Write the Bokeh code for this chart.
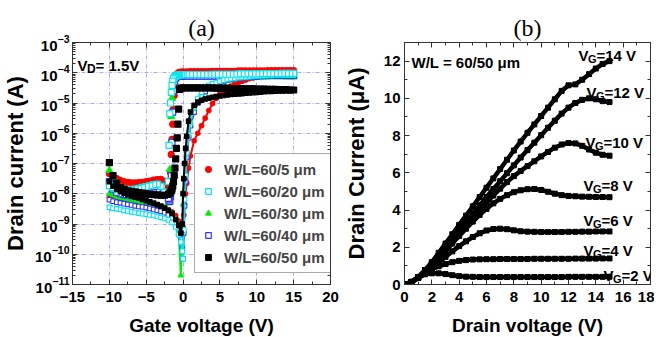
import numpy as np
from bokeh.plotting import figure
from bokeh.models import (Range1d, LinearAxis, LogAxis, SingleIntervalTicker, LogTicker,
                          Legend, LegendItem, Label, ColumnDataSource)
from bokeh.layouts import row
from bokeh.embed import file_html
from bokeh.resources import INLINE

# ---------------- data: panel (a) transfer curves (log10 of drain current in A) -------------
VG_SLOW = [-10, -9.5, -9, -8.5, -8, -7.5, -7, -6.5, -6, -5.5, -5, -4.5, -4, -3.5, -3, -2.5, -2, -1.5, -1,
           -0.6, -0.3, -0.1, 0, 0.1, 0.2, 0.35, 0.5, 0.75, 1,
           1.5, 2, 2.5, 3, 3.5, 4, 4.5, 5, 5.5, 6, 6.5, 7, 7.5, 8, 8.5, 9, 9.5, 10, 10.5, 11, 11.5,
           12, 12.5, 13, 13.5, 14, 14.5, 15]
VG_FAST = [15, 14.5, 14, 13.5, 13, 12.5, 12, 11.5, 11, 10.5, 10, 9.5, 9, 8.5, 8, 7.5, 7, 6.5, 6, 5.5,
           5, 4.5, 4, 3.5, 3, 2.5, 2, 1.5, 1, 0.5, 0,
           -0.25, -0.5, -0.6, -0.7, -0.8, -0.9, -1.0, -1.1, -1.2, -1.3, -1.4, -1.5, -1.6, -1.7, -1.8, -1.9, -2.0,
           -2.5, -3, -3.5, -4, -4.5, -5, -5.5, -6, -6.5, -7, -7.5, -8, -8.5, -9, -9.5, -10]

LOG_ID_SLOW_5 = [-8.10, -8.12, -8.14, -8.16, -8.18, -8.20, -8.22, -8.24, -8.26, -8.28, -8.30, -8.33, -8.36, -8.39,
                 -8.42, -8.46, -8.52, -8.60, -8.72,
                 -8.90, -9.15, -9.45, -9.10, -8.70, -8.35, -8.00, -7.65, -7.15, -6.75,
                 -6.25, -6.00, -5.75, -5.50, -5.25, -5.02, -4.84, -4.70, -4.60, -4.51, -4.44, -4.38, -4.33, -4.28,
                 -4.24, -4.20, -4.17, -4.14, -4.11, -4.09, -4.07, -4.05, -4.03, -4.01, -4.00, -3.99, -3.98, -3.97]
LOG_ID_SLOW_20 = [-8.45, -8.48, -8.50, -8.52, -8.55, -8.57, -8.60, -8.62, -8.64, -8.66, -8.68, -8.70, -8.72, -8.75,
                  -8.78, -8.82, -8.87, -8.95, -9.10,
                  -9.35, -9.60, -9.90, -10.15, -9.20, -8.20, -7.40, -6.65, -6.05, -5.65,
                  -5.15, -4.85, -4.65, -4.50, -4.42, -4.36, -4.32, -4.28, -4.25, -4.22, -4.20, -4.18, -4.16, -4.15,
                  -4.14, -4.13, -4.12, -4.11, -4.10, -4.10, -4.09, -4.09, -4.08, -4.08, -4.08, -4.07, -4.07, -4.07]
LOG_ID_SLOW_30 = [-8.00, -8.05, -8.10, -8.13, -8.16, -8.19, -8.22, -8.25, -8.27, -8.29, -8.31, -8.33, -8.36, -8.40,
                  -8.44, -8.49, -8.55, -8.65, -8.85,
                  -9.30, -10.70, -9.35, -8.35, -7.90, -7.50, -7.00, -6.60, -6.10, -5.75,
                  -5.30, -5.00, -4.80, -4.65, -4.53, -4.45, -4.39, -4.34, -4.30, -4.27, -4.24, -4.22, -4.20, -4.19,
                  -4.18, -4.17, -4.16, -4.16, -4.15, -4.15, -4.15, -4.14, -4.14, -4.14, -4.13, -4.13, -4.13, -4.13]
LOG_ID_SLOW_40 = [-8.20, -8.25, -8.28, -8.30, -8.33, -8.35, -8.37, -8.40, -8.42, -8.44, -8.46, -8.49, -8.52, -8.55,
                  -8.58, -8.63, -8.70, -8.80, -9.00,
                  -9.20, -9.50, -9.80, -10.15, -9.30, -8.40, -7.60, -6.80, -6.15, -5.75,
                  -5.30, -5.00, -4.78, -4.62, -4.50, -4.42, -4.36, -4.31, -4.27, -4.24, -4.22, -4.20, -4.18, -4.17,
                  -4.16, -4.15, -4.14, -4.13, -4.12, -4.12, -4.11, -4.11, -4.10, -4.10, -4.10, -4.09, -4.09, -4.09]
LOG_ID_SLOW_50 = [-7.60, -7.75, -7.85, -7.92, -7.98, -8.03, -8.07, -8.11, -8.15, -8.19, -8.23, -8.27, -8.31, -8.36,
                  -8.41, -8.47, -8.55, -8.65, -8.85,
                  -9.05, -9.30, -9.00, -8.00, -7.50, -7.00, -6.50, -6.10, -5.60, -5.30,
                  -5.08, -4.97, -4.91, -4.87, -4.84, -4.81, -4.79, -4.77, -4.75, -4.73, -4.72, -4.71, -4.70, -4.69,
                  -4.68, -4.67, -4.66, -4.65, -4.64, -4.63, -4.62, -4.62, -4.61, -4.60, -4.60, -4.59, -4.59, -4.58]

LOG_ID_FAST_5 = [-3.93, -3.93, -3.93, -3.93, -3.93, -3.93, -3.93, -3.93, -3.94, -3.94, -3.94, -3.94, -3.94, -3.94,
                 -3.94, -3.94, -3.95, -3.95, -3.95, -3.95, -3.95, -3.95, -3.95, -3.96, -3.96, -3.96, -3.96, -3.96,
                 -3.96, -3.97, -3.97,
                 -3.98, -3.99, -4.00, -4.02, -4.05, -4.10, -4.20, -4.40, -4.75, -5.20, -5.70, -6.20, -6.70, -7.30,
                 -7.75, -7.90, -7.75,
                 -7.58, -7.52, -7.53, -7.55, -7.58, -7.60, -7.62, -7.63, -7.64, -7.64, -7.62, -7.60, -7.56, -7.50,
                 -7.42, -7.33]
LOG_ID_FAST_20 = [-4.02, -4.02, -4.02, -4.02, -4.03, -4.03, -4.03, -4.03, -4.03, -4.03, -4.04, -4.04, -4.04, -4.04,
                  -4.04, -4.04, -4.05, -4.05, -4.05, -4.05, -4.05, -4.05, -4.05, -4.06, -4.06, -4.06, -4.06, -4.06,
                  -4.06, -4.06, -4.06,
                  -4.07, -4.07, -4.08, -4.08, -4.09, -4.10, -4.11, -4.13, -4.16, -4.20, -4.28, -4.42, -4.65, -5.00,
                  -5.35, -6.40, -7.60,
                  -7.95, -7.75, -7.68, -7.70, -7.73, -7.76, -7.79, -7.82, -7.85, -7.87, -7.88, -7.90, -7.88, -7.84,
                  -7.80, -7.73]
LOG_ID_FAST_30 = [-4.14, -4.14, -4.14, -4.13, -4.13, -4.13, -4.13, -4.12, -4.12, -4.12, -4.12, -4.12, -4.11, -4.11,
                  -4.11, -4.11, -4.11, -4.10, -4.10, -4.10, -4.10, -4.10, -4.10, -4.10, -4.09, -4.09, -4.09, -4.09,
                  -4.09, -4.09, -4.09,
                  -4.09, -4.10, -4.10, -4.11, -4.12, -4.13, -4.15, -4.18, -4.23, -4.32, -4.50, -4.85, -5.45, -6.30,
                  -7.20, -8.05, -8.30,
                  -8.00, -7.80, -7.72, -7.72, -7.75, -7.78, -7.80, -7.83, -7.86, -7.88, -7.88, -7.85, -7.80, -7.65,
                  -7.45, -7.23]
LOG_ID_FAST_40 = [-4.09, -4.09, -4.09, -4.09, -4.09, -4.09, -4.09, -4.09, -4.09, -4.09, -4.10, -4.10, -4.10, -4.10,
                  -4.10, -4.10, -4.10, -4.10, -4.10, -4.10, -4.11, -4.11, -4.11, -4.11, -4.11, -4.11, -4.11, -4.11,
                  -4.11, -4.11, -4.11,
                  -4.11, -4.11, -4.12, -4.12, -4.13, -4.14, -4.16, -4.20, -4.30, -4.60, -5.30, -6.30, -7.40, -8.10,
                  -8.25, -8.20, -8.15,
                  -8.00, -7.95, -7.95, -7.97, -8.00, -8.02, -8.04, -8.05, -8.06, -8.06, -8.05, -8.03, -8.00, -7.95,
                  -7.85, -7.60]
LOG_ID_FAST_50 = [-4.57, -4.57, -4.56, -4.56, -4.56, -4.55, -4.55, -4.55, -4.54, -4.54, -4.54, -4.53, -4.53, -4.53,
                  -4.52, -4.52, -4.52, -4.52, -4.51, -4.51, -4.51, -4.51, -4.50, -4.50, -4.50, -4.50, -4.50, -4.50,
                  -4.50, -4.50, -4.50,
                  -4.51, -4.55, -5.20, -5.70, -6.15, -6.50, -6.85, -7.15, -7.40, -7.60, -7.75, -7.85, -7.90, -7.95,
                  -7.98, -8.00, -8.02,
                  -8.05, -8.05, -8.04, -8.03, -8.02, -8.00, -7.98, -7.96, -7.94, -7.92, -7.90, -7.85, -7.80, -7.65,
                  -7.40, -6.97]

SERIES_LABELS = ["W/L=60/5 \u03bcm", "W/L=60/20 \u03bcm", "W/L=60/30 \u03bcm", "W/L=60/40 \u03bcm", "W/L=60/50 \u03bcm"]

# ---------------- data: panel (b) output curves (drain current in uA) -------------
VD = [0, 0.5, 1, 1.5, 2, 2.5, 3, 3.5, 4, 4.5, 5, 5.5, 6, 6.5, 7, 7.5, 8, 8.5, 9, 9.5,
      10, 10.5, 11, 11.5, 12, 12.5, 13, 13.5, 14, 14.5, 15]
ID_VG2 = [0, 0.10, 0.35, 0.55, 0.60, 0.60, 0.56, 0.50, 0.45, 0.42, 0.41, 0.40, 0.40, 0.40, 0.40, 0.40,
          0.40, 0.40, 0.40, 0.40, 0.40, 0.40, 0.40, 0.40, 0.41, 0.41, 0.41, 0.41, 0.41, 0.41, 0.42]
ID_VG4 = [0, 0.15, 0.40, 0.62, 0.82, 0.98, 1.10, 1.20, 1.27, 1.31, 1.34, 1.35, 1.36, 1.36, 1.37, 1.37,
          1.37, 1.37, 1.37, 1.38, 1.38, 1.38, 1.38, 1.38, 1.38, 1.39, 1.39, 1.39, 1.39, 1.40, 1.40]
ID_VG6 = [0, 0.12, 0.35, 0.60, 0.88, 1.18, 1.48, 1.78, 2.06, 2.32, 2.55, 2.75, 2.90, 2.98, 3.00, 2.97,
          2.91, 2.86, 2.84, 2.83, 2.82, 2.82, 2.82, 2.82, 2.83, 2.83, 2.84, 2.84, 2.85, 2.85, 2.85]
ID_VG8 = [0, 0.12, 0.36, 0.66, 1.02, 1.40, 1.80, 2.20, 2.60, 3.00, 3.38, 3.74, 4.06, 4.36, 4.60, 4.80,
          4.96, 5.06, 5.12, 5.13, 5.08, 4.98, 4.88, 4.80, 4.76, 4.74, 4.72, 4.71, 4.70, 4.70, 4.69]
ID_VG10 = [0, 0.12, 0.37, 0.70, 1.08, 1.50, 1.92, 2.34, 2.76, 3.18, 3.60, 4.00, 4.40, 4.78, 5.15, 5.50,
           5.82, 6.10, 6.36, 6.62, 6.88, 7.12, 7.35, 7.52, 7.60, 7.58, 7.45, 7.25, 7.08, 6.97, 6.92]
ID_VG12 = [0, 0.13, 0.39, 0.74, 1.12, 1.56, 2.00, 2.45, 2.90, 3.35, 3.80, 4.25, 4.70, 5.13, 5.55, 5.98,
           6.40, 6.82, 7.22, 7.62, 8.02, 8.42, 8.80, 9.18, 9.50, 9.75, 9.92, 10.00, 9.95, 9.85, 9.80]
ID_VG14 = [0, 0.13, 0.40, 0.78, 1.20, 1.70, 2.20, 2.70, 3.20, 3.70, 4.20, 4.70, 5.20, 5.70, 6.20, 6.70,
           7.20, 7.68, 8.15, 8.60, 9.05, 9.50, 9.95, 10.40, 10.70, 10.75, 11.00, 11.30, 11.60, 11.85, 12.00]
VG_LABELS = ["14", "12", "10", "8", "6", "4", "2"]

FONT = "Liberation Sans"
AX = "#333333"
TOP, BOTTOM = 42, 45


def style_axis(ax, tick_size="15px"):
    ax.major_tick_in = 5
    ax.major_tick_out = 0
    ax.minor_tick_in = 3
    ax.minor_tick_out = 0
    ax.axis_line_color = AX
    ax.major_tick_line_color = AX
    ax.minor_tick_line_color = AX
    ax.major_label_text_font = FONT
    ax.major_label_text_font_style = "bold"
    ax.major_label_text_font_size = tick_size
    ax.major_label_text_color = "black"
    ax.axis_label_text_font = FONT
    ax.axis_label_text_font_style = "bold"
    ax.axis_label_text_color = "black"


def blank_axis(ax):
    style_axis(ax, "2px")
    ax.major_label_text_alpha = 0
    ax.major_label_standoff = 0


def title_axis(ax, txt):
    blank_axis(ax)
    ax.axis_label = txt
    ax.axis_label_text_font = "Liberation Serif"
    ax.axis_label_text_font_style = "normal"
    ax.axis_label_text_font_size = "24px"
    ax.axis_label_standoff = 2


def add_text(p, txt, x, y, size, font=FONT, style="bold", align="left"):
    p.add_layout(Label(x=x, y=y, x_units="screen", y_units="screen", text=txt,
                       text_font=font, text_font_style=style, text_font_size=size,
                       text_color="black", text_align=align, text_baseline="alphabetic"))


def add_sub_label(p, main, sub, rest, x, y):
    add_text(p, main, x, y, "15px")
    add_text(p, sub, x + 9.5, y - 3.5, "11px")
    add_text(p, rest, x + 18, y, "15px")


# ---------------- panel (a) ----------------
p1 = figure(output_backend="svg", toolbar_location=None, y_axis_type="log",
            x_range=Range1d(-15, 20), y_range=Range1d(1e-11, 1e-3),
            frame_width=258, frame_height=242,
            min_border_left=68, min_border_right=10, min_border_top=TOP, min_border_bottom=BOTTOM)
p1.outline_line_color = AX
p1.xaxis.ticker = SingleIntervalTicker(interval=5, num_minor_ticks=2)
p1.yaxis.ticker = LogTicker(desired_num_ticks=10, num_minor_ticks=10)
for ax in p1.xaxis + p1.yaxis:
    style_axis(ax)
p1.xaxis.axis_label = "Gate voltage (V)"
p1.yaxis.axis_label = "Drain current (A)"
p1.xaxis.axis_label_text_font_size = "19px"
p1.yaxis.axis_label_text_font_size = "22px"
p1.xaxis.major_label_standoff = 7
p1.xaxis.axis_label_standoff = 10
p1.yaxis.major_label_standoff = 3
p1.yaxis.axis_label_standoff = 4
for g in (p1.xgrid, p1.ygrid):
    g.grid_line_color = "#a8a8ff"
    g.grid_line_dash = "4 2 1 2"
    g.grid_line_width = 1

top1 = LinearAxis(ticker=SingleIntervalTicker(interval=5, num_minor_ticks=2))
title_axis(top1, "(a)")
p1.add_layout(top1, "above")
right1 = LogAxis(ticker=LogTicker(desired_num_ticks=10, num_minor_ticks=10))
blank_axis(right1)
p1.add_layout(right1, "right")

slow_sets = [LOG_ID_SLOW_5, LOG_ID_SLOW_20, LOG_ID_SLOW_30, LOG_ID_SLOW_40, LOG_ID_SLOW_50]
fast_sets = [LOG_ID_FAST_5, LOG_ID_FAST_20, LOG_ID_FAST_30, LOG_ID_FAST_40, LOG_ID_FAST_50]
styles = [
    dict(marker="circle", size=6, fill_color="#ff0000", line_color="#ff0000", color="#ff0000"),
    dict(marker="square", size=6, fill_color="white", line_color="#00e5ee", color="#00e5ee"),
    dict(marker="triangle", size=7, fill_color="#00ee00", line_color="#00ee00", color="#00ee00"),
    dict(marker="square", size=6, fill_color="white", line_color="#3333ff", color="#3333ff"),
    dict(marker="square", size=6, fill_color="black", line_color="black", color="black"),
]
draw_order = [0, 2, 3, 1, 4]
legend_renderers = {}
for i in draw_order:
    st = styles[i]
    src_s = ColumnDataSource(dict(x=VG_SLOW, y=10.0 ** np.array(slow_sets[i])))
    src_f = ColumnDataSource(dict(x=VG_FAST, y=10.0 ** np.array(fast_sets[i])))
    p1.line("x", "y", source=src_s, line_color=st["color"], line_width=2)
    p1.scatter("x", "y", source=src_s, marker=st["marker"], size=st["size"] - 1.5,
               fill_color=st["fill_color"], line_color=st["line_color"], line_width=1.1)
    r = p1.scatter("x", "y", source=src_f, marker=st["marker"], size=st["size"],
                   fill_color=st["fill_color"], line_color=st["line_color"], line_width=1.2)
    legend_renderers[i] = r

legend = Legend(items=[LegendItem(label=SERIES_LABELS[i], renderers=[legend_renderers[i]]) for i in range(5)],
                location=(122, 11))
legend.label_text_font = FONT
legend.label_text_font_style = "bold"
legend.label_text_font_size = "15px"
legend.label_height = 18
legend.glyph_height = 14
legend.glyph_width = 14
legend.label_standoff = 9
legend.spacing = 4
legend.padding = 6
legend.margin = 0
legend.border_line_color = "#555555"
legend.border_line_width = 1
legend.background_fill_alpha = 1
p1.add_layout(legend)

add_text(p1, "V", 5, 219, "15px")
add_text(p1, "D", 14.5, 215.5, "12px")
add_text(p1, "= 1.5V", 23, 219, "15px")

# ---------------- panel (b) ----------------
p2 = figure(output_backend="svg", toolbar_location=None,
            x_range=Range1d(0, 18), y_range=Range1d(0, 13),
            frame_width=246, frame_height=242,
            min_border_left=62, min_border_right=4, min_border_top=TOP, min_border_bottom=BOTTOM)
p2.outline_line_color = AX
p2.xgrid.visible = False
p2.ygrid.visible = False
p2.xaxis.ticker = SingleIntervalTicker(interval=2, num_minor_ticks=2)
p2.yaxis.ticker = SingleIntervalTicker(interval=2, num_minor_ticks=2)
for ax in p2.xaxis + p2.yaxis:
    style_axis(ax)
p2.xaxis.axis_label = "Drain voltage (V)"
p2.yaxis.axis_label = "Drain Current (\u03bcA)"
p2.xaxis.axis_label_text_font_size = "19px"
p2.yaxis.axis_label_text_font_size = "22px"
p2.xaxis.major_label_standoff = 7
p2.xaxis.axis_label_standoff = 10
p2.yaxis.major_label_standoff = 4
p2.yaxis.axis_label_standoff = 12

top2 = LinearAxis(ticker=SingleIntervalTicker(interval=2, num_minor_ticks=2))
title_axis(top2, "(b)")
p2.add_layout(top2, "above")
right2 = LinearAxis(ticker=SingleIntervalTicker(interval=2, num_minor_ticks=2))
blank_axis(right2)
p2.add_layout(right2, "right")

for ids in (ID_VG2, ID_VG4, ID_VG6, ID_VG8, ID_VG10, ID_VG12, ID_VG14):
    src = ColumnDataSource(dict(x=VD, y=ids))
    p2.line("x", "y", source=src, line_color="black", line_width=4.5)
    p2.scatter("x", "y", source=src, marker="square", size=5, fill_color="black", line_color="black")

label_pos = [(174, 229), (182, 192), (181, 142), (179, 99), (179, 64), (179, 34), (199, 9)]
for vg, (lx, ly) in zip(VG_LABELS, label_pos):
    add_sub_label(p2, "V", "G", "=" + vg + " V", lx, ly)

add_text(p2, "W/L = 60/50 \u03bcm", 7, 222, "15px")

layout = row(p1, p2)
open("out.html", "w").write(file_html(layout, INLINE))
